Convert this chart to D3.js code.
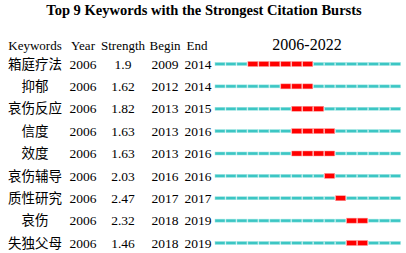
<!DOCTYPE html>
<html lang="zh">
<head>
    <meta charset="UTF-8">
    <script src="https://cdnjs.cloudflare.com/ajax/libs/d3/7.8.5/d3.min.js"></script>
    <style>
        body { margin: 0; background: #fff; }
        text { font-family: "Liberation Serif", "Times New Roman", "Noto Sans CJK SC", serif; fill: #000; }
    </style>
</head>
<body>
<svg id="chart" width="406" height="253"></svg>
<script>
    const keywords = ['箱庭疗法', '抑郁', '哀伤反应', '信度', '效度', '哀伤辅导', '质性研究', '哀伤', '失独父母'];
    const years = [2006, 2006, 2006, 2006, 2006, 2006, 2006, 2006, 2006];
    const strengths = ['1.9', '1.62', '1.82', '1.63', '1.63', '2.03', '2.47', '2.32', '1.46'];
    const begins = [2009, 2012, 2013, 2013, 2013, 2016, 2017, 2018, 2018];
    const ends = [2014, 2014, 2015, 2016, 2016, 2016, 2017, 2019, 2019];
    const headers = ['Keywords', 'Year', 'Strength', 'Begin', 'End'];
    const startYear = 2006, endYear = 2022;

    const svg = d3.select('#chart');

    svg.append('text')
        .attr('x', 204).attr('y', 15)
        .attr('text-anchor', 'middle')
        .style('font-size', '14.5px').style('font-weight', 'bold')
        .text('Top 9 Keywords with the Strongest Citation Bursts');

    const colX = [35, 83, 123, 165, 197];
    headers.forEach((h, i) => {
        svg.append('text')
            .attr('x', colX[i]).attr('y', 50)
            .attr('text-anchor', 'middle')
            .style('font-size', '13px')
            .text(h);
    });
    svg.append('text')
        .attr('x', 307).attr('y', 50)
        .attr('text-anchor', 'middle')
        .style('font-size', '16px')
        .text(startYear + '-' + endYear);

    const yScale = d3.scalePoint().domain(d3.range(keywords.length)).range([64, 243]);
    const xScale = d3.scaleLinear().domain([startYear, endYear + 1]).range([214.5, 401]);
    const yearList = d3.range(startYear, endYear + 1);

    const rows = svg.selectAll('g.row')
        .data(keywords.map((k, i) => ({ k, i })))
        .enter().append('g')
        .attr('class', 'row')
        .attr('transform', d => `translate(0,${yScale(d.i)})`);

    const cols = [d => keywords[d.i], d => years[d.i], d => strengths[d.i], d => begins[d.i], d => ends[d.i]];
    cols.forEach((f, c) => {
        rows.append('text')
            .attr('x', colX[c] + (c === 4 ? 1 : 0))
            .attr('dy', '0.35em')
            .attr('text-anchor', 'middle')
            .style('font-size', '13.5px')
            .text(f);
    });

    rows.each(function (d) {
        d3.select(this).selectAll('rect')
            .data(yearList).enter()
            .append('rect')
            .attr('x', y => xScale(y) + 0.5)
            .attr('width', y => xScale(y + 1) - xScale(y) - 1)
            .attr('y', y => (y >= begins[d.i] && y <= ends[d.i]) ? -2.5 : -1.5)
            .attr('height', y => (y >= begins[d.i] && y <= ends[d.i]) ? 5 : 3)
            .style('fill', y => (y >= begins[d.i] && y <= ends[d.i]) ? '#ff0000' : '#3cc6c4')
            .style('stroke', y => (y >= begins[d.i] && y <= ends[d.i]) ? '#ff9a9a' : '#9be3e1')
            .style('stroke-width', 0.5);
    });
</script>
</body>
</html>
